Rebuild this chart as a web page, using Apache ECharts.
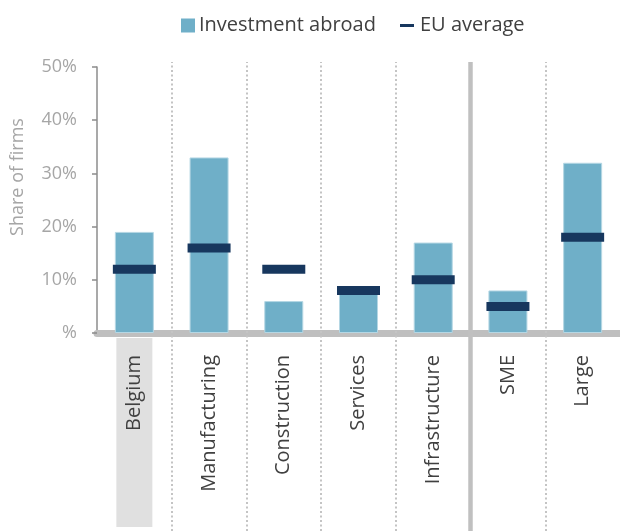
<!DOCTYPE html>
<html>
<head>
<meta charset="utf-8">
<script src="https://cdn.jsdelivr.net/npm/echarts@6/dist/echarts.min.js"></script>
<style>html,body{margin:0;padding:0;background:#fff}#c{width:620px;height:531px}</style>
</head>
<body>
<div id="c"></div>
<script>
var categories = ['Belgium', 'Manufacturing', 'Construction', 'Services', 'Infrastructure', 'SME', 'Large'];
var investmentAbroad = [19, 33, 6, 8, 17, 8, 32];
var euAverage = [12, 16, 12, 8, 10, 5, 18];
var yTicks = [0, 10, 20, 30, 40, 50];
var dottedDividers = [1, 2, 3, 4, 6];
var solidDividers = [5];

var FONT = 'Open Sans';
var chart = echarts.init(document.getElementById('c'), null, {renderer: 'canvas'});

var sepData = dottedDividers.map(function (v) {
  return {xAxis: v, lineStyle: {type: [2, 2.5], width: 2, color: '#c4c4c4'}};
}).concat(solidDividers.map(function (v) {
  return {xAxis: v, lineStyle: {type: 'solid', width: 4.5, color: '#c0c0c0'}};
}));

chart.setOption({
  animation: false,
  textStyle: {fontFamily: FONT},
  legend: [{
    data: [{name: 'Investment abroad', icon: 'rect'}],
    left: 176, top: 10.5,
    itemWidth: 14, itemHeight: 14, itemGap: 20,
    itemStyle: {borderWidth: 0},
    textStyle: {fontFamily: FONT, fontSize: 20, color: '#404040', padding: [0, 0, 0, -1]}
  }, {
    data: [{name: 'EU average', icon: 'rect'}],
    left: 395, top: 10.5,
    itemWidth: 14, itemHeight: 3,
    itemStyle: {borderWidth: 0},
    textStyle: {fontFamily: FONT, fontSize: 20, color: '#404040', padding: [0, 0, 0, 1]}
  }],
  grid: [{
    left: 97, top: 67, width: 528.5, bottom: 198, containLabel: false
  }, {
    left: 97, top: 62, width: 528.5, bottom: 0, containLabel: false
  }],
  xAxis: [{
    type: 'category', data: categories, gridIndex: 0,
    axisLine: {show: true, lineStyle: {color: '#bfbfbf', width: 7}},
    axisTick: {show: false},
    axisLabel: {
      interval: 0, rotate: 90, margin: 5,
      formatter: function (v) { return v === 'Belgium' ? '{bg|' + v + '}' : '{n|' + v + '}'; },
      rich: {
        bg: {fontFamily: FONT, fontSize: 20, color: '#404040', lineHeight: 21,
             backgroundColor: '#e0e0e0', padding: [8, 17, 8, 96]},
        n: {fontFamily: FONT, fontSize: 20, color: '#404040', lineHeight: 21,
            padding: [8, 17, 8, 0]}
      }
    },
    splitLine: {show: false}
  }, {
    type: 'value', gridIndex: 1, min: 0, max: 7, show: false
  }],
  yAxis: [{
    type: 'value', gridIndex: 0, min: 0, max: 50, interval: 10,
    name: 'Share of firms', nameLocation: 'middle', nameGap: 70, nameRotate: 90,
    nameTextStyle: {fontFamily: FONT, fontSize: 18, color: '#a6a6a6', padding: [0, 0, 0, 46]},
    axisLine: {show: true, lineStyle: {color: '#8c8c8c', width: 1.5}},
    axisTick: {show: true, inside: false, length: 5, lineStyle: {color: '#8c8c8c', width: 1.5}},
    axisLabel: {
      margin: 20, fontFamily: FONT, fontSize: 18, color: '#a6a6a6',
      formatter: function (v) { return yTicks.indexOf(v) >= 0 ? (v === 0 ? '%' : v + '%') : ''; }
    },
    splitLine: {show: false}
  }, {
    type: 'value', gridIndex: 1, min: 0, max: 1, show: false
  }],
  series: [{
    name: 'Investment abroad', type: 'bar', xAxisIndex: 0, yAxisIndex: 0,
    data: investmentAbroad, barWidth: 39,
    itemStyle: {color: '#6fafc8', borderColor: '#b5d7e4', borderWidth: 1},
    z: 2
  }, {
    name: 'EU average', type: 'scatter', xAxisIndex: 0, yAxisIndex: 0,
    data: euAverage, symbol: 'rect', symbolSize: [43, 9],
    itemStyle: {color: '#17375e', opacity: 1},
    z: 3
  }, {
    name: 'sep', type: 'line', xAxisIndex: 1, yAxisIndex: 1, data: [],
    silent: true, z: 1,
    markLine: {silent: true, symbol: 'none', label: {show: false}, animation: false,
               emphasis: {disabled: true}, data: sepData}
  }]
});
</script>
</body>
</html>
